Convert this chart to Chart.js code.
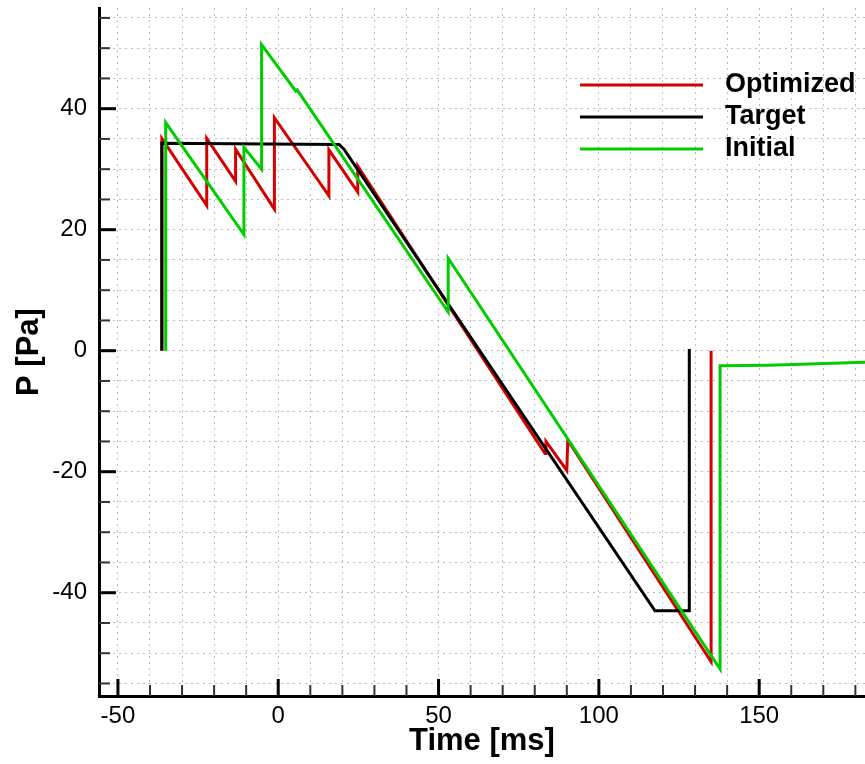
<!DOCTYPE html>
<html>
<head>
<meta charset="utf-8">
<script src="https://cdn.jsdelivr.net/npm/chart.js@4/dist/chart.umd.min.js"></script>
<style>
  html, body { margin: 0; padding: 0; background: #fff; }
  canvas { display: block; }
</style>
</head>
<body>
<canvas id="chart" width="865" height="764"></canvas>
<script>
// values
const optimizedTime = [-36.3, -36.3, -22.3, -22.3, -13.3, -13.3, -1.2, -1.2, 15.8, 15.8, 24.8, 24.8, 83.2, 83.5, 90.0, 90.3, 135.0, 135.0];
const optimizedP    = [0, 35.1, 24.0, 35.1, 28.0, 33.3, 23.4, 38.5, 25.6, 33.2, 26.2, 30.5, -17.0, -15.0, -19.8, -14.8, -51.4, 0];

const targetTime = [-36.3, -36.3, 19.0, 20.5, 117.5, 128.2, 128.2];
const targetP    = [0, 34.3, 34.1, 33.3, -43.0, -43.0, 0.3];

const initialTime = [-35.1, -35.1, -10.7, -10.7, -5.2, -5.2, 5.5, 5.9, 53.0, 53.0, 137.8, 137.8, 153.0, 183.0];
const initialP    = [0, 37.7, 19.2, 33.6, 30.0, 50.6, 42.9, 43.1, 6.4, 15.3, -52.6, -2.5, -2.4, -1.9];

const xMajor = 50, xMinor = 10;
const yMajor = 20, yMinor = 5;

function toPoints(t, p) {
    return t.map((v, i) => ({ x: v, y: p[i] }));
}

const FONT = "'Liberation Sans', Arial, sans-serif";

// tick marks drawn inside the frame
const inwardTicks = {
    id: 'inwardTicks',
    afterDraw(chart) {
        const { ctx, chartArea, scales: { x, y } } = chart;
        ctx.save();
        x.ticks.forEach(t => {
            const px = x.getPixelForValue(t.value);
            const major = Math.abs(t.value % xMajor) < 1e-6;
            ctx.lineWidth = major ? 3 : 2;
            ctx.strokeStyle = major ? '#000' : '#333';
            ctx.beginPath();
            ctx.moveTo(px, chartArea.bottom);
            ctx.lineTo(px, chartArea.bottom - (major ? 17 : 11));
            ctx.stroke();
        });
        y.ticks.forEach(t => {
            const py = y.getPixelForValue(t.value);
            const major = Math.abs(t.value % yMajor) < 1e-6;
            ctx.lineWidth = major ? 3 : 2;
            ctx.strokeStyle = major ? '#000' : '#333';
            ctx.beginPath();
            ctx.moveTo(chartArea.left, py);
            ctx.lineTo(chartArea.left + (major ? 17 : 11), py);
            ctx.stroke();
        });
        ctx.restore();
    }
};

// legend in the upper right of the plot
const lineLegend = {
    id: 'lineLegend',
    afterDraw(chart) {
        const { ctx } = chart;
        ctx.save();
        ctx.font = "bold 27px " + FONT;
        ctx.textBaseline = 'middle';
        chart.data.datasets.forEach((ds, i) => {
            const ly = 85 + i * 32;
            ctx.strokeStyle = ds.borderColor;
            ctx.lineWidth = 3;
            ctx.beginPath();
            ctx.moveTo(580, ly);
            ctx.lineTo(703, ly);
            ctx.stroke();
            ctx.fillStyle = '#000';
            ctx.fillText(ds.label, 725, ly);
        });
        ctx.restore();
    }
};

const ctx = document.getElementById('chart').getContext('2d');
new Chart(ctx, {
    type: 'line',
    data: {
        datasets: [
            { label: 'Optimized', data: toPoints(optimizedTime, optimizedP), borderColor: '#d40000', order: 2 },
            { label: 'Target', data: toPoints(targetTime, targetP), borderColor: '#000000', order: 1 },
            { label: 'Initial', data: toPoints(initialTime, initialP), borderColor: '#00cc00', order: 0 }
        ]
    },
    options: {
        responsive: false,
        animation: false,
        layout: { padding: { top: 8, right: 0, bottom: 0, left: 0 } },
        elements: {
            line: { borderWidth: 3, tension: 0, fill: false },
            point: { radius: 0 }
        },
        plugins: {
            legend: { display: false },
            tooltip: { enabled: false }
        },
        scales: {
            x: {
                type: 'linear',
                min: -55.9,
                max: 183.0,
                afterFit: s => { s.height = 68; s.paddingLeft = 0; s.paddingRight = 0; },
                grid: { color: '#bbbbbb', lineWidth: 1, drawTicks: false },
                border: { color: '#000', width: 3, dash: [2, 4] },
                ticks: {
                    stepSize: xMinor,
                    includeBounds: false,
                    autoSkip: false,
                    maxRotation: 0,
                    padding: 6,
                    color: '#000',
                    font: { family: FONT, size: 24 },
                    callback: v => (Math.abs(v % xMajor) < 1e-6 ? String(Math.round(v)) : '')
                },
                title: {
                    display: true,
                    text: 'Time [ms]',
                    color: '#000',
                    font: { family: FONT, size: 31, weight: 'bold' },
                    padding: { top: 0, bottom: 4 }
                }
            },
            y: {
                min: -57.07,
                max: 56.64,
                afterFit: s => { s.width = 99; s.paddingTop = 0; s.paddingBottom = 0; },
                grid: { color: '#bbbbbb', lineWidth: 1, drawTicks: false },
                border: { color: '#000', width: 3, dash: [2, 4] },
                ticks: {
                    stepSize: yMinor,
                    includeBounds: false,
                    autoSkip: false,
                    padding: 12,
                    color: '#000',
                    font: { family: FONT, size: 24 },
                    callback: v => (Math.abs(v % yMajor) < 1e-6 ? String(Math.round(v)) : '')
                },
                title: {
                    display: true,
                    text: 'P [Pa]',
                    color: '#000',
                    font: { family: FONT, size: 31, weight: 'bold' },
                    padding: { top: 11, bottom: 0 }
                }
            }
        }
    },
    plugins: [inwardTicks, lineLegend]
});
</script>
</body>
</html>
